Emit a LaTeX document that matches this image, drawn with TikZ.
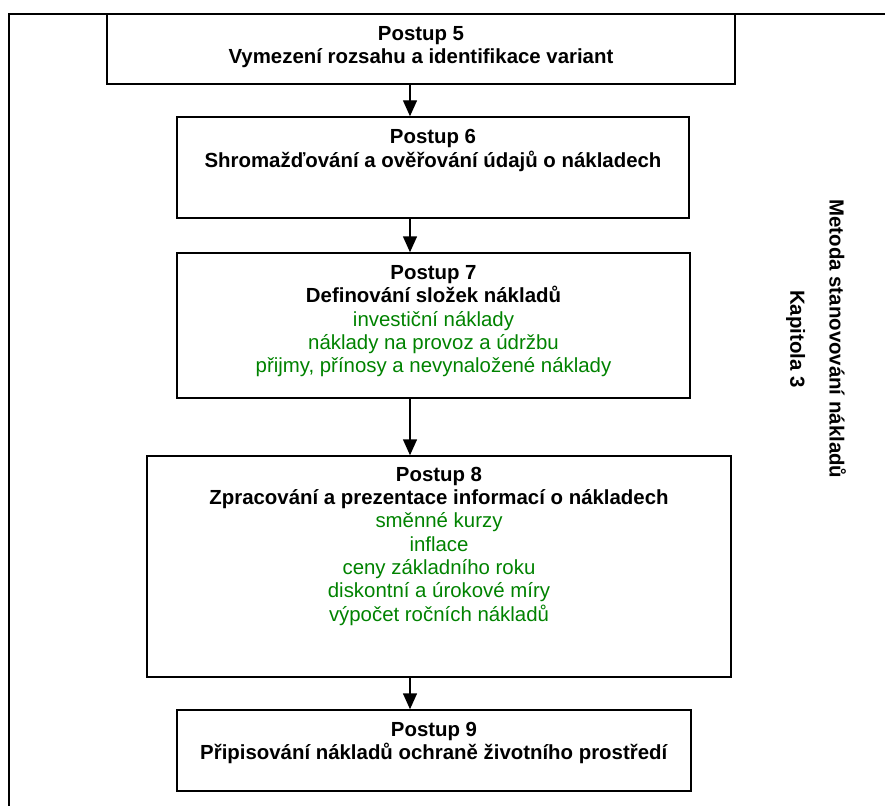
\documentclass[tikz,border=0pt]{standalone}
\usepackage{fontspec}
\setmainfont{Liberation Sans}
\usetikzlibrary{arrows.meta,fit}
\definecolor{grn}{RGB}{0,130,0}
\begin{document}
\begin{tikzpicture}[x=0.75pt,y=-0.75pt,
  box/.style={draw, line width=1.1pt, inner sep=0pt},
  txt/.style={align=center, inner sep=0pt, anchor=north, font=\fontsize{15.3}{17.5}\selectfont},
  arr/.style={line width=1.1pt, -{Triangle[width=10.5pt,length=12pt]}},
  frame/.style={line width=1.6pt}]
\useasboundingbox (0,0) rectangle (885,806);
% outer frame
\coordinate (fbl) at (9,806);
\coordinate (ftl) at (9,14);
\coordinate (ftr) at (885,14);
\draw[frame] (fbl) -- (ftl) -- (ftr);
% boxes
\node[box, fit={(107,14) (735,84)}] (b5) {};
\node[box, fit={(177,117) (689,218)}] (b6) {};
\node[box, fit={(177,253) (690,398)}] (b7) {};
\node[box, fit={(147,456) (731,677)}] (b8) {};
\node[box, fit={(177,710) (691,791)}] (b9) {};
% texts
\node[txt] (t5) at ([yshift=-9.8pt]b5.north) {\textbf{Postup 5}\\\textbf{Vymezení rozsahu a identifikace variant}};
\node[txt] (t6) at ([yshift=-9.8pt]b6.north) {\textbf{Postup 6}\\\textbf{Shromažďování a ověřování údajů o nákladech}};
\node[txt] (t7) at ([yshift=-9.8pt]b7.north) {\textbf{Postup 7}\\\textbf{Definování složek nákladů}\\
  \textcolor{grn}{investiční náklady}\\\textcolor{grn}{náklady na provoz a údržbu}\\
  \textcolor{grn}{přijmy, přínosy a nevynaložené náklady}};
\node[txt] (t8) at ([yshift=-8.5pt]b8.north) {\textbf{Postup 8}\\\textbf{Zpracování a prezentace informací o nákladech}\\
  \textcolor{grn}{směnné kurzy}\\\textcolor{grn}{inflace}\\\textcolor{grn}{ceny základního roku}\\
  \textcolor{grn}{diskontní a úrokové míry}\\\textcolor{grn}{výpočet ročních nákladů}};
\node[txt] (t9) at ([yshift=-9.5pt]b9.north) {\textbf{Postup 9}\\\textbf{Připisování nákladů ochraně životního prostředí}};
% side label
\node[align=center, inner sep=0pt, rotate=-90, font=\fontsize{15.3}{17.5}\selectfont\bfseries] (side) at (816,339)
  {Metoda stanovování nákladů\\[12pt]Kapitola 3};
% arrows
\coordinate (ax) at (410,0);
\draw[arr] (b5.south -| ax) -- (b6.north -| ax);
\draw[arr] (b6.south -| ax) -- (b7.north -| ax);
\draw[arr] (b7.south -| ax) -- (b8.north -| ax);
\draw[arr] (b8.south -| ax) -- (b9.north -| ax);
\end{tikzpicture}
\end{document}
